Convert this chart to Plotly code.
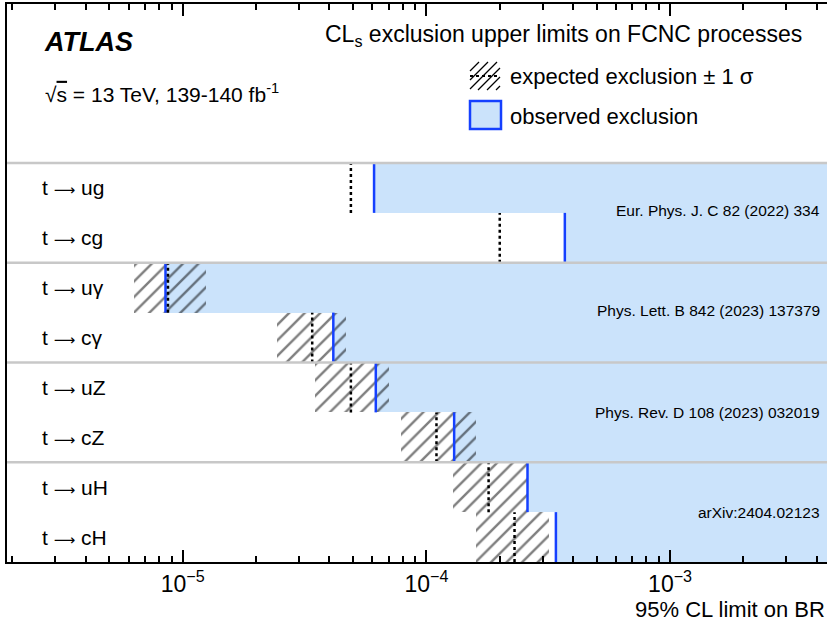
import plotly.graph_objects as go

# ---------------- data ----------------
process_from = "t"
process_to = ["ug", "cg", "uγ", "cγ", "uZ", "cZ", "uH", "cH"]
observed = [6.1e-5, 3.7e-4, 8.5e-6, 4.15e-5, 6.2e-5, 1.3e-4, 2.6e-4, 3.4e-4]
expected = [4.9e-5, 2.0e-4, 8.7e-6, 3.4e-5, 4.9e-5, 1.1e-4, 1.8e-4, 2.3e-4]
expected_lo = [None, None, 6.3e-6, 2.43e-5, 3.5e-5, 7.9e-5, 1.29e-4, 1.6e-4]
expected_hi = [None, None, 1.25e-5, 4.7e-5, 7.0e-5, 1.6e-4, 2.58e-4, 3.2e-4]
references = ["Eur. Phys. J. C 82 (2022) 334", "Phys. Lett. B 842 (2023) 137379",
              "Phys. Rev. D 108 (2023) 032019", "arXiv:2404.02123"]
tick_vals = [1e-5, 1e-4, 1e-3]
tick_text = ["10<sup>−5</sup>", "10<sup>−4</sup>", "10<sup>−3</sup>"]
minor_vals = [k * 10.0 ** e for e in range(-6, -2) for k in range(2, 10)]

# ---------------- style / layout constants ----------------
W, H = 827, 624
ML, MR, MT, MB = 7, 0, 4, 62
PW, PH = W - ML - MR, H - MT - MB
XRANGE = [-5.721, -2.356]
NROWS = len(process_to)
YTOP = NROWS + 159.0 / 49.875
FONT = "Liberation Sans, Arial, Helvetica, sans-serif"
LIGHT_BLUE = "#cbe3fb"
BLUE = "#1540ff"
GREY = "#c8c8c8"
FILL_END = 1.0


def px(x):
    return (x - ML) / PW


def py(y):
    return (H - MB - y) / PH


n = len(process_to)
row_y = [n - 1 - i + 0.5 for i in range(n)]

fig = go.Figure()

# observed exclusion fill
fig.add_trace(go.Bar(
    y=row_y, x=[FILL_END - o for o in observed], base=observed,
    orientation="h", width=1.0,
    marker=dict(color=LIGHT_BLUE, line=dict(width=0)),
    showlegend=False, hoverinfo="skip"))

# expected +-1 sigma hatch
band_idx = [i for i in range(n) if expected_lo[i] is not None]
fig.add_trace(go.Bar(
    y=[row_y[i] for i in band_idx],
    x=[expected_hi[i] - expected_lo[i] for i in band_idx],
    base=[expected_lo[i] for i in band_idx],
    orientation="h", width=1.0,
    marker=dict(color="rgba(0,0,0,0)", line=dict(width=0),
                pattern=dict(shape="/", fgcolor="black", bgcolor="rgba(0,0,0,0)",
                             size=11, solidity=0.22)),
    showlegend=False, hoverinfo="skip"))

# observed lines
ox, oy = [], []
for i in range(n):
    ox += [observed[i], observed[i], None]
    oy += [row_y[i] - 0.5, row_y[i] + 0.5, None]
fig.add_trace(go.Scatter(x=ox, y=oy, mode="lines",
                         line=dict(color=BLUE, width=2.5),
                         showlegend=False, hoverinfo="skip"))

# expected lines
ex, ey = [], []
for i in range(n):
    ex += [expected[i], expected[i], None]
    ey += [row_y[i] - 0.5, row_y[i] + 0.5, None]
fig.add_trace(go.Scatter(x=ex, y=ey, mode="lines",
                         line=dict(color="black", width=2.5, dash="3px,3px"),
                         showlegend=False, hoverinfo="skip"))

shapes = []
# row group separators
for b in range(2, NROWS + 1, 2):
    shapes.append(dict(type="line", xref="paper", yref="y", x0=0, x1=1, y0=b, y1=b,
                       line=dict(color=GREY, width=2.5), layer="above"))

# legend icons
hx0, hx1, hy0, hy1 = 470, 500, 62, 90
step = 9
c = hx0 - (hy1 - hy0)
while c < hx1:
    xa, ya = c, hy1
    xb, yb = c + (hy1 - hy0), hy0
    if xa < hx0:
        ya = ya - (hx0 - xa)
        xa = hx0
    if xb > hx1:
        yb = yb + (xb - hx1)
        xb = hx1
    if xb > xa:
        shapes.append(dict(type="line", xref="paper", yref="paper",
                           x0=px(xa), x1=px(xb), y0=py(ya), y1=py(yb),
                           line=dict(color="black", width=1.2)))
    c += step
shapes.append(dict(type="line", xref="paper", yref="paper",
                   x0=px(hx0), x1=px(hx1), y0=py(76), y1=py(76),
                   line=dict(color="black", width=2.2, dash="3px,3px")))
shapes.append(dict(type="rect", xref="paper", yref="paper",
                   x0=px(470), x1=px(501), y0=py(129), y1=py(101),
                   fillcolor=LIGHT_BLUE, line=dict(color=BLUE, width=2.5)))

ARROW = "<span style='font-family:DejaVu Sans;font-size:15px'>⟶</span>"
annotations = []
for i in range(n):
    annotations.append(dict(x=px(40), xref="paper", y=row_y[i], yref="y",
                            text=f"{process_from} {ARROW} {process_to[i]}", showarrow=False,
                            xanchor="left", yanchor="middle",
                            font=dict(size=21, color="black", family=FONT)))
for j, ref in enumerate(references):
    annotations.append(dict(x=px(822), xref="paper", y=NROWS - 1 - 2 * j + (0.05 if j < 2 else 0.0),
                            yref="y", text=ref, showarrow=False, xanchor="right",
                            yanchor="middle", font=dict(size=15.5, color="black", family=FONT)))

annotations += [
    dict(x=px(42), y=py(42), xref="paper", yref="paper", text="<b><i>ATLAS</i></b>",
         showarrow=False, xanchor="left", yanchor="middle",
         font=dict(size=27, color="black", family=FONT)),
    dict(x=px(43), y=py(93), xref="paper", yref="paper",
         text="√<span style='text-decoration:overline'>s</span> = 13 TeV, 139-140 fb<sup>-1</sup>",
         showarrow=False, xanchor="left", yanchor="middle",
         font=dict(size=21, color="black", family=FONT)),
    dict(x=px(804), y=py(36), xref="paper", yref="paper",
         text="CL<sub>s</sub> exclusion upper limits on FCNC processes",
         showarrow=False, xanchor="right", yanchor="middle",
         font=dict(size=23, color="black", family=FONT)),
    dict(x=px(508), y=py(76), xref="paper", yref="paper",
         text="expected exclusion ± 1 σ",
         showarrow=False, xanchor="left", yanchor="middle",
         font=dict(size=22, color="black", family=FONT)),
    dict(x=px(508), y=py(116), xref="paper", yref="paper",
         text="observed exclusion",
         showarrow=False, xanchor="left", yanchor="middle",
         font=dict(size=22, color="black", family=FONT)),
    dict(x=1.0, y=py(609), xref="paper", yref="paper",
         text="95% CL limit on BR",
         showarrow=False, xanchor="right", yanchor="middle",
         font=dict(size=22, color="black", family=FONT)),
]

fig.update_layout(
    width=W, height=H,
    margin=dict(l=ML, r=MR, t=MT, b=MB, pad=0),
    paper_bgcolor="white", plot_bgcolor="white",
    barmode="overlay", bargap=0,
    showlegend=False,
    shapes=shapes, annotations=annotations,
    font=dict(family=FONT, color="black"),
    xaxis=dict(type="log", range=XRANGE, showgrid=False, zeroline=False,
               showline=True, linewidth=2, linecolor="black", mirror="allticks",
               ticks="inside", ticklen=12, tickwidth=1.5, tickcolor="black",
               tickmode="array", tickvals=tick_vals, ticktext=tick_text,
               tickfont=dict(size=23, family=FONT, color="black"),
               minor=dict(ticks="inside", ticklen=6, tickwidth=1.5, tickcolor="black",
                          tickmode="array", tickvals=minor_vals, showgrid=False)),
    yaxis=dict(range=[0, YTOP], showgrid=False, zeroline=False, showticklabels=False,
               ticks="", showline=True, linewidth=2, linecolor="black", mirror=False,
               fixedrange=True),
)

fig.write_html("out.html", config={"displayModeBar": False},
               post_script="document.body.style.margin='0';document.body.style.overflow='hidden';")
